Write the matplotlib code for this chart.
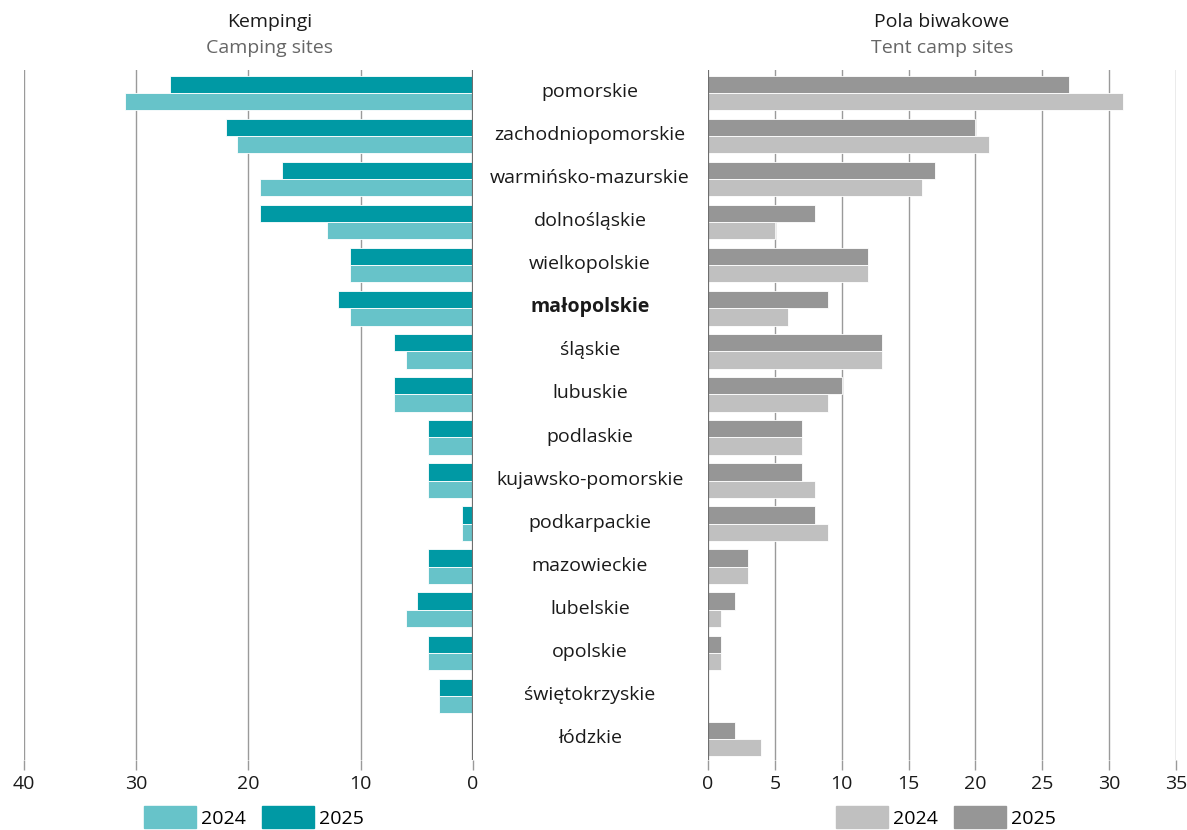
import numpy as np
import matplotlib.pyplot as plt
from matplotlib import font_manager
from matplotlib.patches import Patch

# use a sans family that ships a bold face
bold_ok = {f.name for f in font_manager.fontManager.ttflist
           if f.weight in (700, 'bold') or 'Bold' in f.fname}
family = next((f for f in ['Noto Sans', 'Open Sans', 'Roboto', 'Lato'] if f in bold_ok), 'DejaVu Sans')
plt.rcParams['font.family'] = [family, 'DejaVu Sans']

regions = ['pomorskie', 'zachodniopomorskie', 'warmińsko-mazurskie', 'dolnośląskie',
           'wielkopolskie', 'małopolskie', 'śląskie', 'lubuskie', 'podlaskie',
           'kujawsko-pomorskie', 'podkarpackie', 'mazowieckie', 'lubelskie',
           'opolskie', 'świętokrzyskie', 'łódzkie']

camp_2024 = [31, 21, 19, 13, 11, 11, 6, 7, 4, 4, 1, 4, 6, 4, 3, 0]
camp_2025 = [27, 22, 17, 19, 11, 12, 7, 7, 4, 4, 1, 4, 5, 4, 3, 0]
tent_2024 = [31, 21, 16, 5, 12, 6, 13, 9, 7, 8, 9, 3, 1, 1, 0, 4]
tent_2025 = [27, 20, 17, 8, 12, 9, 13, 10, 7, 7, 8, 3, 2, 1, 0, 2]

c24, c25 = '#67c3c9', '#0099a4'
g24, g25 = '#c0c0c0', '#969696'
fs = 14

fig = plt.figure(figsize=(11.87, 8.3), dpi=100)
W, H = 1187, 830
bottom = 1 - 760 / H
height = (760 - 70) / H
axL = fig.add_axes([24 / W, bottom, 449 / W, height])
axR = fig.add_axes([708 / W, bottom, 468 / W, height])

y = np.arange(len(regions))
bh = 0.4

axL.barh(y - bh / 2, camp_2025, height=bh, color=c25, edgecolor='white', linewidth=0.6, zorder=2)
axL.barh(y + bh / 2, camp_2024, height=bh, color=c24, edgecolor='white', linewidth=0.6, zorder=2)
axR.barh(y - bh / 2, tent_2025, height=bh, color=g25, edgecolor='white', linewidth=0.6, zorder=2)
axR.barh(y + bh / 2, tent_2024, height=bh, color=g24, edgecolor='white', linewidth=0.6, zorder=2)

axL.set_xlim(40, 0)
axL.set_xticks([40, 30, 20, 10, 0])
axR.set_xlim(0, 35)
axR.set_xticks(range(0, 36, 5))

for ax in (axL, axR):
    ax.set_ylim(15.49, -0.534)
    ax.set_yticks([])
    for s in ax.spines.values():
        s.set_visible(False)
    for t in ax.get_xticks():
        zero = (t == 0)
        ax.axvline(t, color='#6e6e6e' if zero else '#9a9a9a',
                   lw=1.6 if zero else 1.0, zorder=3 if zero else 1)
    ax.tick_params(axis='x', length=7, width=1, color='#9a9a9a', labelsize=fs,
                   pad=4, labelcolor='#1a1a1a')

# region names between the two panels
for i, name in enumerate(regions):
    fig.text(590 / W, 1 - (92 + 43.07 * i) / H, name, ha='center', va='center',
             fontsize=fs, color='#1a1a1a',
             fontweight='bold' if name == 'małopolskie' else 'normal')

fig.text(270 / W, 1 - 22 / H, 'Kempingi', ha='center', va='center', fontsize=fs, color='#1a1a1a')
fig.text(270 / W, 1 - 48 / H, 'Camping sites', ha='center', va='center', fontsize=fs, color='#666666')
fig.text(942 / W, 1 - 22 / H, 'Pola biwakowe', ha='center', va='center', fontsize=fs, color='#1a1a1a')
fig.text(942 / W, 1 - 48 / H, 'Tent camp sites', ha='center', va='center', fontsize=fs, color='#666666')

leg_kw = dict(ncol=2, frameon=False, fontsize=fs, handlelength=2.7, handleheight=1.3,
              handletextpad=0.25, columnspacing=0.8, borderpad=0, borderaxespad=0)
fig.legend(handles=[Patch(color=c24, label='2024'), Patch(color=c25, label='2025')],
           loc='center', bbox_to_anchor=(254 / W, 1 - 817 / H), **leg_kw)
fig.legend(handles=[Patch(color=g24, label='2024'), Patch(color=g25, label='2025')],
           loc='center', bbox_to_anchor=(946 / W, 1 - 817 / H), **leg_kw)

fig.savefig('out.png', dpi=100)
